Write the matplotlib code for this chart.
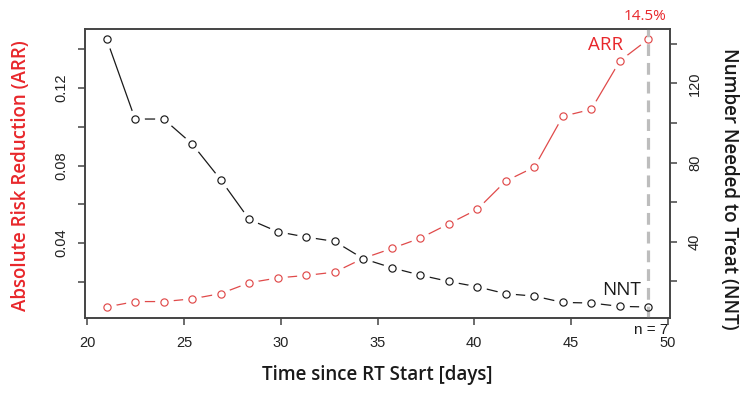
import numpy as np
import matplotlib
matplotlib.use("Agg")
import matplotlib.pyplot as plt

# ---- data ----
days = [21.0, 22.47, 23.95, 25.42, 26.89, 28.37, 29.84, 31.32, 32.79, 34.26,
        35.74, 37.21, 38.68, 40.16, 41.63, 43.11, 44.58, 46.05, 47.53, 49.0]
arr = [0.0070, 0.0098, 0.0098, 0.0112, 0.0139, 0.0195, 0.0220, 0.0233, 0.0250, 0.0321,
       0.0372, 0.0425, 0.0499, 0.0574, 0.0720, 0.0792, 0.1054, 0.1090, 0.1340, 0.1452]
nnt = [142.3, 102.0, 102.0, 89.4, 71.4, 51.3, 45.1, 42.4, 40.2, 31.5,
       26.9, 23.2, 20.0, 17.3, 13.8, 12.6, 9.4, 9.1, 7.4, 7.1]
x_ticks = [20, 25, 30, 35, 40, 45, 50]
arr_ticks = [0.02, 0.04, 0.06, 0.08, 0.10, 0.12, 0.14]
arr_labels = ["", "0.04", "", "0.08", "", "0.12", ""]
nnt_ticks = [20, 40, 60, 80, 100, 120, 140]
nnt_labels = ["", "40", "", "80", "", "120", ""]

RED = "#E8272B"
RED_LINE = "#E04A4A"
BLACK = "#1a1a1a"
AXC = "#444444"
plt.rcParams['lines.scale_dashes'] = False
TICKFONT = "Liberation Sans"
LABFONT = "Open Sans"


def r_lim(v):
    lo, hi = min(v), max(v)
    d = (hi - lo) * 0.04
    return lo - d, hi + d


fig = plt.figure(figsize=(7.5, 4.01), dpi=100)
ax = fig.add_axes([85 / 750, 1 - 317.7 / 401, (670 - 85) / 750, (317.7 - 28.5) / 401])
ax2 = ax.twinx()

ax.set_xlim(*r_lim(days))
ax.set_ylim(*r_lim(arr))
ax2.set_ylim(*r_lim(nnt))

# ARR series (type="b" style: line with gaps around points)
ax.plot(days, arr, color=RED_LINE, lw=0.9, zorder=1)
ax.plot(days, arr, ls="none", marker="o", ms=12.5, mfc="white", mec="white", zorder=2)
ax.plot(days, arr, ls="none", marker="o", ms=5.2, mfc="none", mec=RED_LINE, mew=0.85, zorder=3)

# NNT series
ax2.plot(days, nnt, color=BLACK, lw=0.9, zorder=1)
ax2.plot(days, nnt, ls="none", marker="o", ms=12.5, mfc="white", mec="white", zorder=2)
ax2.axvline(days[-1], color="#BDBDBD", lw=2.3, dashes=(8.5, 5), zorder=2.5)
ax2.plot(days, nnt, ls="none", marker="o", ms=5.2, mfc="none", mec=BLACK, mew=0.85, zorder=3)

# axes styling
for a in (ax, ax2):
    for s in a.spines.values():
        s.set_color(AXC)
        s.set_linewidth(1.2)
ax.set_xticks(x_ticks)
ax.set_xticklabels([str(t) for t in x_ticks], fontfamily=TICKFONT, fontsize=10.5, color="#222222")
ax.set_yticks(arr_ticks)
ax.set_yticklabels(arr_labels, fontfamily=TICKFONT, fontsize=10.5, color="#222222",
                   rotation=90, va="center")
ax2.set_yticks(nnt_ticks)
ax2.set_yticklabels(nnt_labels, fontfamily=TICKFONT, fontsize=10.5, color="#222222",
                    rotation=90, va="center")
ax.tick_params(axis="x", length=5, width=1.1, color=AXC, pad=8.5)
ax.tick_params(axis="y", length=5, width=1.1, color=AXC, pad=7)
ax2.tick_params(axis="y", length=5, width=1.1, color=AXC, pad=8)

# annotations
ax.annotate("ARR", xy=(days[-1], arr[-1]), xytext=(-43, -6), textcoords="offset pixels",
            ha="center", va="center", color=RED, fontfamily=LABFONT, fontsize=13.5)
ax.annotate(f"{arr[-1] * 100:.1f}%", xy=(days[-1], 1), xycoords=("data", "axes fraction"),
            xytext=(-3, 11.5), textcoords="offset pixels",
            ha="center", va="center", color=RED, fontfamily=LABFONT, fontsize=11)
ax2.annotate("NNT", xy=(days[-1], nnt[-1]), xytext=(-26.5, 17), textcoords="offset pixels",
             ha="center", va="center", color=BLACK, fontfamily=LABFONT, fontsize=13.5)
ax2.annotate(f"n = {round(nnt[-1])}", xy=(days[-1], 0), xycoords=("data", "axes fraction"),
             xytext=(3, -12), textcoords="offset pixels",
             ha="center", va="center", color=BLACK, fontfamily=TICKFONT, fontsize=11)

# axis titles
fig.text(377 / 750, 1 - 375 / 401, "Time since RT Start [days]", ha="center", va="center",
         fontfamily=LABFONT, fontsize=13.5, fontweight="semibold", color=BLACK)
fig.text(21.5 / 750, 1 - 176 / 401, "Absolute Risk Reduction (ARR)", ha="center", va="center",
         rotation=90, fontfamily=LABFONT, fontsize=13.5, fontweight="semibold", color=RED)
fig.text(729 / 750, 1 - 189 / 401, "Number Needed to Treat (NNT)", ha="center", va="center",
         rotation=-90, fontfamily=LABFONT, fontsize=13.5, fontweight="semibold", color=BLACK)

fig.savefig("out.png", dpi=100)
